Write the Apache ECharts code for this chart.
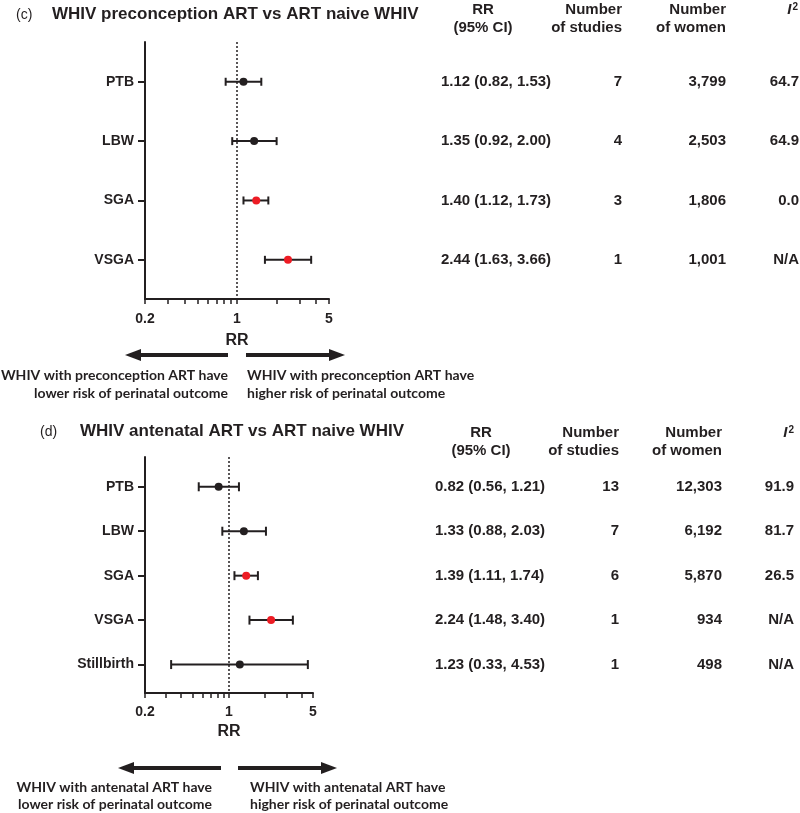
<!DOCTYPE html>
<html><head><meta charset="utf-8">
<script src="https://cdn.jsdelivr.net/npm/echarts@6/dist/echarts.min.js"></script>
<style>html,body{margin:0;padding:0;background:#fff}#c{width:800px;height:813px}</style>
</head><body><div id="c"></div>
<script>
// ---- Data: panel (c) ----
const catsC = ['PTB', 'LBW', 'SGA', 'VSGA'];
const rrC = [1.12, 1.35, 1.40, 2.44];
const lowC = [0.82, 0.92, 1.12, 1.63];
const highC = [1.53, 2.00, 1.73, 3.66];
const sigC = [false, false, true, true];
const studiesC = ['7', '4', '3', '1'];
const womenC = ['3,799', '2,503', '1,806', '1,001'];
const i2C = ['64.7', '64.9', '0.0', 'N/A'];

// ---- Data: panel (d) ----
const catsD = ['PTB', 'LBW', 'SGA', 'VSGA', 'Stillbirth'];
const rrD = [0.82, 1.33, 1.39, 2.24, 1.23];
const lowD = [0.56, 0.88, 1.11, 1.48, 0.33];
const highD = [1.21, 2.03, 1.74, 3.40, 4.53];
const sigD = [false, false, true, true, false];
const studiesD = ['13', '7', '6', '1', '1'];
const womenD = ['12,303', '6,192', '5,870', '934', '498'];
const i2D = ['91.9', '81.7', '26.5', 'N/A', 'N/A'];

// ---- Tick labels ----
const xLabelTicks = [0.2, 1, 5];
const xTickValues = [0.2, 0.3, 0.4, 0.5, 0.6, 0.7, 0.8, 0.9, 1, 2, 3, 4, 5];

const F = '"Liberation Sans", Arial, Helvetica, sans-serif';
const F2 = 'Lato, "Open Sans", sans-serif';
const INK = '#231f20';
const RED = '#ed1c24';

const chart = echarts.init(document.getElementById('c'), null, { renderer: 'canvas' });

function xAxisFor(gi, nameGap, margin) {
  return {
    type: 'log', logBase: 10, gridIndex: gi, min: 0.2, max: 5,
    name: 'RR', nameLocation: 'middle', nameGap: nameGap,
    nameTextStyle: { fontFamily: F, fontWeight: 'bold', fontSize: 16, color: INK },
    axisLine: { show: true, lineStyle: { color: INK, width: 2 } },
    axisTick: { show: true, length: 5, customValues: xTickValues, lineStyle: { color: INK, width: 1.5 } },
    axisLabel: {
      customValues: xLabelTicks, margin: margin,
      fontFamily: F, fontWeight: 'bold', fontSize: 14, color: INK,
      formatter: v => String(Math.round(Number(v) * 10) / 10)
    },
    minorTick: { show: false }, splitLine: { show: false }
  };
}
function yAxisFor(gi, cats, max) {
  const vals = cats.map((c, i) => i + 1);
  return {
    type: 'value', gridIndex: gi, inverse: true, min: 0.33, max: max,
    axisLine: { show: true, lineStyle: { color: INK, width: 2 } },
    axisTick: { show: true, length: 7, customValues: vals, lineStyle: { color: INK, width: 2 } },
    axisLabel: {
      customValues: vals, margin: 11, fontFamily: F, fontWeight: 'bold', fontSize: 14, color: INK,
      formatter: v => cats[Math.round(v) - 1] || ''
    },
    splitLine: { show: false }
  };
}
function errSeries(gi, low, high, cap) {
  return {
    type: 'custom', xAxisIndex: gi, yAxisIndex: gi, z: 3,
    data: low.map((l, i) => [i + 1, l, high[i]]),
    encode: { x: [1, 2], y: 0 },
    renderItem: (params, api) => {
      const y = api.value(0);
      const a = api.coord([api.value(1), y]);
      const b = api.coord([api.value(2), y]);
      const h = cap / 2;
      const st = { stroke: INK, lineWidth: 2 };
      return {
        type: 'group', children: [
          { type: 'line', shape: { x1: a[0], y1: a[1], x2: b[0], y2: b[1] }, style: st },
          { type: 'line', shape: { x1: a[0], y1: a[1] - h, x2: a[0], y2: a[1] + h }, style: st },
          { type: 'line', shape: { x1: b[0], y1: b[1] - h, x2: b[0], y2: b[1] + h }, style: st }
        ]
      };
    }
  };
}
function dotSeries(gi, rr, sig) {
  return {
    type: 'scatter', xAxisIndex: gi, yAxisIndex: gi, z: 5, symbolSize: 8,
    data: rr.map((v, i) => ({ value: [v, i + 1], itemStyle: { color: sig[i] ? RED : INK, opacity: 1 } })),
    markLine: {
      silent: true, symbol: 'none', label: { show: false }, z: 1,
      lineStyle: { type: [2, 2], color: INK, width: 1.5 },
      emphasis: { disabled: true },
      data: [{ xAxis: 1 }]
    }
  };
}

chart.setOption({
  animation: false,
  backgroundColor: '#fff',
  title: [
    { text: '(c)', left: 11, top: 3, textStyle: { fontFamily: F, fontWeight: 'normal', fontSize: 14, color: INK } },
    { text: 'WHIV preconception ART vs ART naive WHIV', left: 47, top: 1, textStyle: { fontFamily: F, fontWeight: 'bold', fontSize: 17, color: INK } },
    { text: '(d)', left: 35, top: 420, textStyle: { fontFamily: F, fontWeight: 'normal', fontSize: 14, color: INK } },
    { text: 'WHIV antenatal ART vs ART naive WHIV', left: 75, top: 418, textStyle: { fontFamily: F, fontWeight: 'bold', fontSize: 17, color: INK } }
  ],
  grid: [
    { left: 145, top: 42, width: 184, height: 257 },
    { left: 145, top: 457, width: 168, height: 236 }
  ],
  xAxis: [xAxisFor(0, 34, 13), xAxisFor(1, 31, 12)],
  yAxis: [yAxisFor(0, catsC, 4.66), yAxisFor(1, catsD, 5.64)],
  series: [
    errSeries(0, lowC, highC, 8), dotSeries(0, rrC, sigC),
    errSeries(1, lowD, highD, 9), dotSeries(1, rrD, sigD)
  ]
});

// ---- Table texts and arrows (rows aligned through the chart's own y scale) ----
function txt(x, y, s, align, opts) {
  return {
    type: 'text', x: x, y: y, silent: true,
    style: Object.assign({ text: s, align: align, verticalAlign: 'middle', fill: INK, font: 'bold 15px ' + F }, opts || {})
  };
}
function arrow(x1, x2, y) {
  const dir = x2 > x1 ? 1 : -1;
  const hl = 16, hw = 6;
  return {
    type: 'group', silent: true, children: [
      { type: 'line', shape: { x1: x1, y1: y, x2: x2 - dir * (hl - 2), y2: y }, style: { stroke: INK, lineWidth: 4 } },
      { type: 'polygon', shape: { points: [[x2, y], [x2 - dir * hl, y - hw], [x2 - dir * hl, y + hw]] }, style: { fill: INK } }
    ]
  };
}
function tableFor(gi, cats, rr, low, high, studies, women, i2, hy, cols) {
  const els = [];
  const lh = 18;
  els.push(txt(cols.rrC, hy, 'RR', 'center'));
  els.push(txt(cols.rrC, hy + lh, '(95% CI)', 'center'));
  els.push(txt(cols.st, hy, 'Number', 'right'));
  els.push(txt(cols.st, hy + lh, 'of studies', 'right'));
  els.push(txt(cols.wo, hy, 'Number', 'right'));
  els.push(txt(cols.wo, hy + lh, 'of women', 'right'));
  els.push({
    type: 'text', x: cols.i2h, y: hy, silent: true,
    style: { text: '{i|I}{s|2}', align: 'right', verticalAlign: 'middle', fill: INK,
      rich: { i: { font: 'italic bold 15px ' + F, fill: INK }, s: { font: 'bold 10px ' + F, fill: INK, verticalAlign: 'top', padding: [0, 0, 6, 1] } } }
  });
  cats.forEach((c, i) => {
    const y = chart.convertToPixel({ gridIndex: gi }, [1, i + 1])[1];
    const ci = rr[i].toFixed(2) + ' (' + low[i].toFixed(2) + ', ' + high[i].toFixed(2) + ')';
    els.push(txt(cols.rrL, y, ci, 'left'));
    els.push(txt(cols.stv, y, studies[i], 'right'));
    els.push(txt(cols.wo, y, women[i], 'right'));
    els.push(txt(cols.i2, y, i2[i], 'right'));
  });
  return els;
}

const lowerTxtStyle = { font: 'bold 14px ' + F2, verticalAlign: 'middle' };
let graphics = [];
graphics = graphics.concat(tableFor(0, catsC, rrC, lowC, highC, studiesC, womenC, i2C, 10,
  { rrC: 483, rrL: 441, st: 622, stv: 622, wo: 726, i2h: 798, i2: 799 }));
graphics = graphics.concat(tableFor(1, catsD, rrD, lowD, highD, studiesD, womenD, i2D, 433,
  { rrC: 481, rrL: 435, st: 619, stv: 619, wo: 722, i2h: 794, i2: 794 }));

graphics.push(arrow(228, 125, 355));
graphics.push(arrow(246, 345, 355));
graphics.push(txt(228, 375, 'WHIV with preconception ART have', 'right', lowerTxtStyle));
graphics.push(txt(228, 393, 'lower risk of perinatal outcome', 'right', lowerTxtStyle));
graphics.push(txt(247, 375, 'WHIV with preconception ART have', 'left', lowerTxtStyle));
graphics.push(txt(247, 393, 'higher risk of perinatal outcome', 'left', lowerTxtStyle));

graphics.push(arrow(221, 118, 768));
graphics.push(arrow(238, 337, 768));
graphics.push(txt(212, 787, 'WHIV with antenatal ART have', 'right', lowerTxtStyle));
graphics.push(txt(212, 804, 'lower risk of perinatal outcome', 'right', lowerTxtStyle));
graphics.push(txt(250, 787, 'WHIV with antenatal ART have', 'left', lowerTxtStyle));
graphics.push(txt(250, 804, 'higher risk of perinatal outcome', 'left', lowerTxtStyle));

chart.setOption({ graphic: graphics });
</script>
</body></html>
